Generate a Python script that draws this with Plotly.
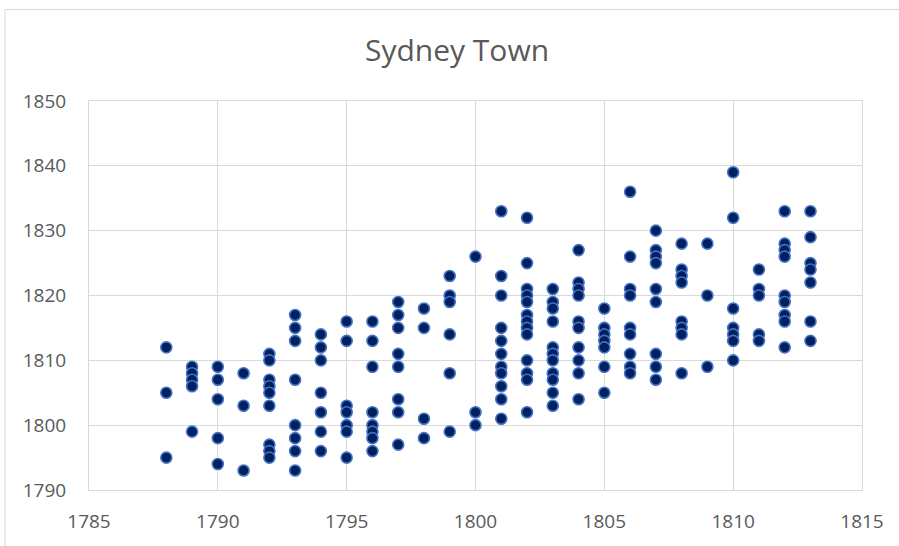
import plotly.graph_objects as go

# Data (x = year, y = year)
x_values = (
    [1788] * 3 + [1789] * 5 + [1790] * 5 + [1791] * 3 + [1792] * 9 + [1793] * 8 +
    [1794] * 7 + [1795] * 7 + [1796] * 8 + [1797] * 8 + [1798] * 4 + [1799] * 6 +
    [1800] * 3 + [1801] * 11 + [1802] * 13 + [1803] * 11 + [1804] * 10 + [1805] * 7 +
    [1806] * 9 + [1807] * 9 + [1808] * 8 + [1809] * 3 + [1810] * 7 + [1811] * 5 +
    [1812] * 9 + [1813] * 7
)
y_values = [
    1812, 1805, 1795,
    1809, 1808, 1807, 1806, 1799,
    1809, 1807, 1804, 1798, 1794,
    1808, 1803, 1793,
    1811, 1810, 1807, 1806, 1805, 1803, 1797, 1796, 1795,
    1817, 1815, 1813, 1807, 1800, 1798, 1796, 1793,
    1814, 1812, 1810, 1805, 1802, 1799, 1796,
    1816, 1813, 1803, 1802, 1800, 1799, 1795,
    1816, 1813, 1809, 1802, 1800, 1799, 1798, 1796,
    1819, 1817, 1815, 1811, 1809, 1804, 1802, 1797,
    1818, 1815, 1801, 1798,
    1823, 1820, 1819, 1814, 1808, 1799,
    1826, 1802, 1800,
    1833, 1823, 1820, 1815, 1813, 1811, 1809, 1808, 1806, 1804, 1801,
    1832, 1825, 1821, 1820, 1819, 1817, 1816, 1815, 1814, 1810, 1808, 1807, 1802,
    1821, 1819, 1818, 1816, 1812, 1811, 1810, 1808, 1807, 1805, 1803,
    1827, 1822, 1821, 1820, 1816, 1815, 1812, 1810, 1808, 1804,
    1818, 1815, 1814, 1813, 1812, 1809, 1805,
    1836, 1826, 1821, 1820, 1815, 1814, 1811, 1809, 1808,
    1830, 1827, 1826, 1825, 1821, 1819, 1811, 1809, 1807,
    1828, 1824, 1823, 1822, 1816, 1815, 1814, 1808,
    1828, 1820, 1809,
    1839, 1832, 1818, 1815, 1814, 1813, 1810,
    1824, 1821, 1820, 1814, 1813,
    1833, 1828, 1827, 1826, 1820, 1819, 1817, 1816, 1812,
    1833, 1829, 1825, 1824, 1822, 1816, 1813,
]

title_text = "Sydney Town"
x_ticks = [1785, 1790, 1795, 1800, 1805, 1810, 1815]
y_ticks = [1790, 1800, 1810, 1820, 1830, 1840, 1850]

W, H = 899, 546
L, R, T, B = 89, 862, 101, 492

fig = go.Figure()
fig.add_trace(go.Scatter(
    x=x_values, y=y_values, mode="markers",
    marker=dict(size=11, color="#002060", line=dict(color="#4472C4", width=1.6)),
    showlegend=False,
))

grid = "#d9d9d9"
tickfont = dict(family="Open Sans", size=19, color="#595959")

fig.update_xaxes(
    range=[1785, 1815], tickvals=x_ticks, ticktext=[str(v) for v in x_ticks],
    showgrid=True, gridcolor=grid, gridwidth=1, zeroline=False,
    showline=True, linecolor=grid, linewidth=1, mirror=True,
    ticks="", ticklabelstandoff=14, tickfont=tickfont,
)
fig.update_yaxes(
    range=[1790, 1850], tickvals=y_ticks, ticktext=[str(v) for v in y_ticks],
    showgrid=True, gridcolor=grid, gridwidth=1, zeroline=False,
    showline=True, linecolor=grid, linewidth=1, mirror=True,
    ticks="", ticklabelstandoff=18, tickfont=tickfont,
)

pw, ph = R - L, B - T
def px2x(px):
    return (px - L) / pw
def py2y(py):
    return (B - py) / ph

fig.update_layout(
    width=W, height=H,
    margin=dict(l=L, r=W - R, t=T, b=H - B, pad=0),
    paper_bgcolor="white", plot_bgcolor="white",
    title=dict(text=title_text, x=457 / W, xref="container", xanchor="center",
               y=1 - 50 / H, yref="container", yanchor="middle",
               font=dict(family="Open Sans", size=30, color="#595959")),
    shapes=[dict(type="rect", xref="paper", yref="paper",
                 x0=px2x(5), x1=px2x(960), y0=py2y(600), y1=py2y(9),
                 line=dict(color="#d9d9d9", width=1), fillcolor="rgba(0,0,0,0)",
                 layer="below")],
)

fig.write_html("out.html", config={"displayModeBar": False},
               post_script="document.body.style.margin='0';")
